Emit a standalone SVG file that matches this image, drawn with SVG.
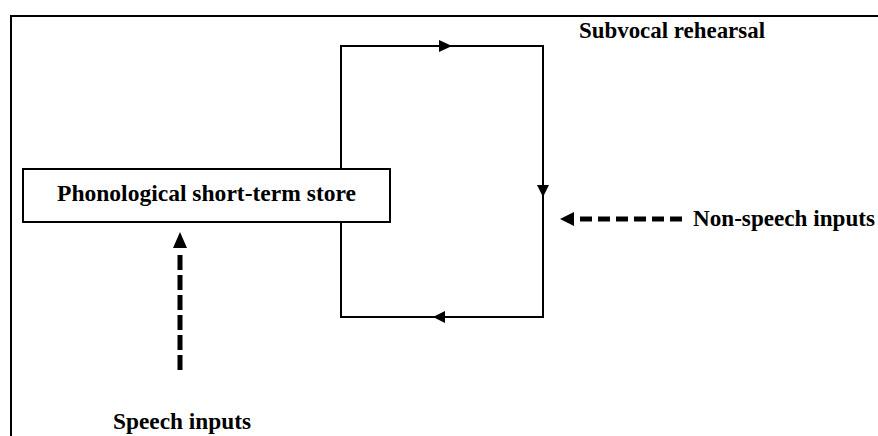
<svg xmlns="http://www.w3.org/2000/svg" width="878" height="436" viewBox="0 0 878 436">
<style>
.line{fill:none;stroke:#000;stroke-width:2}
.dash{fill:none;stroke:#000;stroke-width:5}
.head{fill:#000;stroke:none}
.lbl{font-family:"Liberation Serif","Times New Roman",serif;font-weight:bold;font-size:22.5px;fill:#000}
</style>
<rect x="0" y="0" width="878" height="436" fill="#fff"/>
<g id="frame">
<path class="line" d="M11,437 V16 H879"/>
</g>
<g id="connectors">
<path class="line" d="M341,169 V46 H543 V317 H341 V222"/>
<polygon class="head" points="452,46 439,40 439,52"/>
<polygon class="head" points="543,197 537,185 549,185"/>
<polygon class="head" points="433,317 445,311 445,323"/>
<path class="dash" d="M682,219 H572" stroke-dasharray="12,6"/>
<polygon class="head" points="560,219 574,212 574,226"/>
<path class="dash" d="M180,370 V250" stroke-dasharray="15,5"/>
<polygon class="head" points="180,232 173,248 187,248"/>
</g>
<g id="store">
<rect class="line" x="23" y="169" width="367" height="53" fill="#fff"/>
<text class="lbl" x="57" y="201" textLength="299" lengthAdjust="spacingAndGlyphs">Phonological short-term store</text>
</g>
<g id="subvocal">
<text class="lbl" x="579" y="38" textLength="186" lengthAdjust="spacingAndGlyphs">Subvocal rehearsal</text>
</g>
<g id="nonspeech">
<text class="lbl" x="693" y="226" textLength="182" lengthAdjust="spacingAndGlyphs">Non-speech inputs</text>
</g>
<g id="speech">
<text class="lbl" x="113" y="429" textLength="138" lengthAdjust="spacingAndGlyphs">Speech inputs</text>
</g>
</svg>
